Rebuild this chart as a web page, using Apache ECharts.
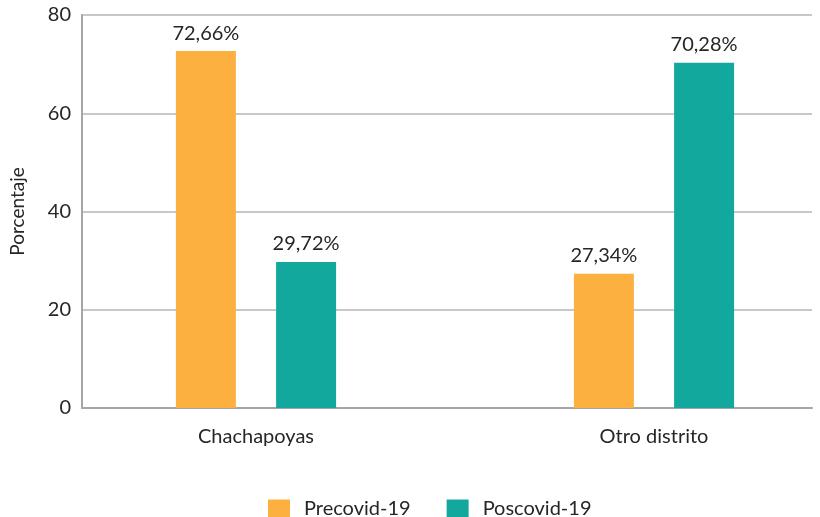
<!DOCTYPE html>
<html>
<head>
    <meta charset="utf-8">
    <title></title>
    <script src="https://cdn.jsdelivr.net/npm/echarts@6/dist/echarts.min.js"></script>
</head>
<body style="margin:0;">
<div id="main" style="width: 820px;height:517px;"></div>
<script type="text/javascript">
var categories = ['Chachapoyas', 'Otro distrito'];
var precovid = [72.66, 27.34];
var poscovid = [29.72, 70.28];
var yTicks = [0, 20, 40, 60, 80];

var FONT = 'Lato, "Open Sans", sans-serif';
var TXT = '#262626';

function pct(p) {
    return p.value.toFixed(2).replace('.', ',') + '%';
}

var myChart = echarts.init(document.getElementById('main'));
myChart.setOption({
    animation: false,
    textStyle: {fontFamily: FONT},
    legend: {
        top: 494,
        left: 263,
        icon: 'rect',
        itemWidth: 22,
        itemHeight: 19,
        itemGap: 36,
        textStyle: {fontFamily: FONT, fontSize: 20, color: TXT, padding: [0, 0, 0, 9]},
        data: ['Precovid-19', 'Poscovid-19']
    },
    grid: [
        // frame: y axis, gridlines, base line
        {left: 82, right: 8, top: 15, bottom: 109, outerBoundsMode: 'none'},
        // bars (categories sit a bit off the frame like in the original)
        {left: 57, width: 796, top: 15, bottom: 109, outerBoundsMode: 'none'}
    ],
    xAxis: [
        {gridIndex: 0, type: 'category', data: categories,
         axisLine: {lineStyle: {color: '#a6a6a6', width: 2}},
         axisTick: {show: false}, axisLabel: {show: false}},
        {gridIndex: 1, type: 'category', data: categories,
         axisLine: {show: false}, axisTick: {show: false},
         axisLabel: {fontFamily: FONT, fontSize: 20, color: TXT, margin: 19}}
    ],
    yAxis: [
        {gridIndex: 0, type: 'value', min: yTicks[0], max: yTicks[yTicks.length - 1], interval: 20,
         name: 'Porcentaje', nameLocation: 'middle', nameGap: 55, nameRotate: 90,
         nameTextStyle: {fontFamily: FONT, fontSize: 19, color: TXT},
         axisLine: {show: true, lineStyle: {color: '#a6a6a6', width: 2}},
         axisTick: {show: false},
         axisLabel: {fontFamily: FONT, fontSize: 20, color: TXT, margin: 11},
         splitLine: {lineStyle: {color: '#c8c8c8', width: 2}}},
        {gridIndex: 1, type: 'value', min: 0, max: 80, interval: 20, show: false,
         splitLine: {show: false}}
    ],
    series: [
        {name: 'Precovid-19', type: 'bar', xAxisIndex: 1, yAxisIndex: 1,
         data: precovid, barWidth: 60, barGap: '67%',
         itemStyle: {color: '#fbb040'},
         label: {show: true, position: 'top', distance: 8, formatter: pct,
                 fontFamily: FONT, fontSize: 20, color: TXT}},
        {name: 'Poscovid-19', type: 'bar', xAxisIndex: 1, yAxisIndex: 1,
         data: poscovid, barWidth: 60, barGap: '67%',
         itemStyle: {color: '#13a89e'},
         label: {show: true, position: 'top', distance: 8, formatter: pct,
                 fontFamily: FONT, fontSize: 20, color: TXT}}
    ]
});
</script>
</body>
</html>
